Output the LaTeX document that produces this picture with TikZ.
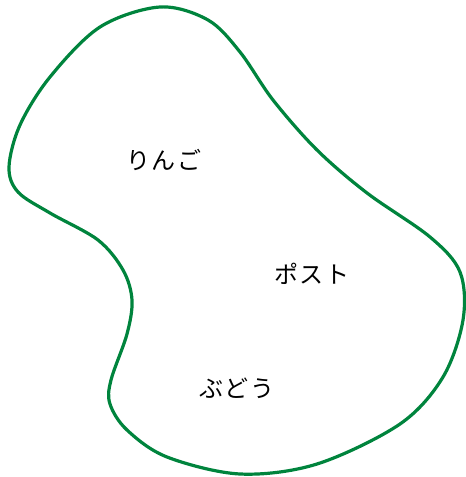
\documentclass[tikz,border=0pt]{standalone}
\usepackage{fontspec}
\newfontfamily\jp{Noto Sans CJK JP}
\definecolor{blobgreen}{RGB}{0,132,61}
\tikzset{
  blob/.style={draw=blobgreen, line width=2.4pt},
  lbl/.style={font=\jp\fontsize{18}{21}\selectfont, text=black, inner sep=0pt}
}
\begin{document}
\begin{tikzpicture}[x=0.75pt,y=-0.75pt]
\useasboundingbox (0,0) rectangle (466,477);
\draw[blob] plot[smooth cycle, tension=0.55] coordinates {
  (160,7) (208,20) (240,52) (273,100) (317,150) (367,193) (430,237)
  (460,272) (463,320) (443,377) (400,424) (317,464) (240,474) (167,457)
  (127,430) (110,404) (111,380) (127,334) (132,300) (123,270) (98,240)
  (50,213) (18,192) (9,167) (20,125) (50,77) (100,27)};
\node[lbl] (ringo) at (164,160) {り\hspace{1.5pt}ん\hspace{1.5pt}ご};
\node[lbl] (post) at (312,274) {ポ\hspace{1.5pt}ス\hspace{1.5pt}ト};
\node[lbl] (budou) at (237,388) {ぶ\hspace{1.5pt}ど\hspace{1.5pt}う};
\end{tikzpicture}
\end{document}
